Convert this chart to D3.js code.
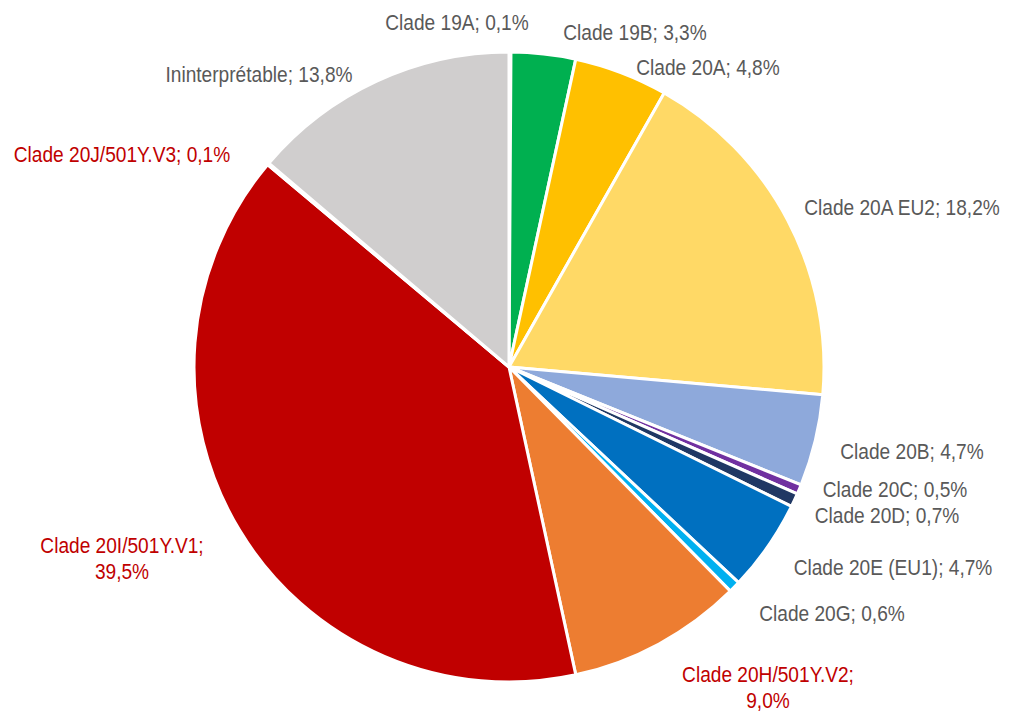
<!DOCTYPE html>
<html>
<head>
<meta charset="utf-8">
<script src="https://cdn.jsdelivr.net/npm/d3@7"></script>
<style>
  body { margin: 0; background: #fff; }
  text { font-family: "Liberation Sans", Arial, sans-serif; font-size: 22.5px; }
</style>
</head>
<body>
<div id="viz"></div>
<script>
// slices clockwise from 12 o'clock
var clades = ["Clade 19A", "Clade 19B", "Clade 20A", "Clade 20A EU2", "Clade 20B", "Clade 20C",
              "Clade 20D", "Clade 20E (EU1)", "Clade 20G", "Clade 20H/501Y.V2", "Clade 20I/501Y.V1",
              "Clade 20J/501Y.V3", "Ininterprétable"];
var shares = [0.1, 3.3, 4.8, 18.2, 4.7, 0.5, 0.7, 4.7, 0.6, 9.0, 39.5, 0.1, 13.8];
var colors = ["#375623", "#00B050", "#FFC000", "#FFD966", "#8EA9DB", "#7030A0",
              "#203864", "#0070C0", "#00B0F0", "#ED7D31", "#C00000", "#C00000", "#D0CECE"];
var variant = [false, false, false, false, false, false, false, false, false, true, true, true, false];

// label placement (centre x, first baseline y, split on two lines?)
var labelPos = [[457, 30, 0], [635, 40, 0], [708, 75, 0], [902, 215, 0], [912, 459, 0], [895, 497, 0],
                [887, 523, 0], [893, 575, 0], [832, 621, 0], [768, 682, 1], [122, 553, 1],
                [122, 162, 0], [259, 82, 0]];

var W = 1017, H = 713, cx = 509, cy = 367, R = 315;
var narrow = 0.85; // squeeze to mimic a narrow face

var svg = d3.select("#viz").append("svg")
    .attr("width", W)
    .attr("height", H);

var data = clades.map(function(c, i) { return {name: c, value: shares[i], i: i}; });

var pie = d3.pie().sort(null).value(function(d) { return d.value; });
var arc = d3.arc().innerRadius(0).outerRadius(R);

var g = svg.append("g").attr("transform", "translate(" + cx + "," + cy + ")");

g.selectAll("path")
    .data(pie(data))
    .enter().append("path")
    .attr("d", arc)
    .style("fill", function(d) { return colors[d.data.i]; })
    .style("stroke", "#fff")
    .style("stroke-width", 3)
    .style("stroke-linejoin", "round");

var fmt = function(v) { return v.toFixed(1).replace(".", ",") + "%"; };

data.forEach(function(d, i) {
    var p = labelPos[i];
    var t = svg.append("text")
        .attr("transform", "translate(" + p[0] + "," + p[1] + ") scale(" + narrow + ",1)")
        .attr("text-anchor", "middle")
        .style("fill", variant[i] ? "#C00000" : "#595959");
    if (p[2]) {
        t.append("tspan").attr("x", 0).text(d.name + ";");
        t.append("tspan").attr("x", 0).attr("dy", 26).text(fmt(d.value));
    } else {
        t.text(d.name + "; " + fmt(d.value));
    }
});
</script>
</body>
</html>
